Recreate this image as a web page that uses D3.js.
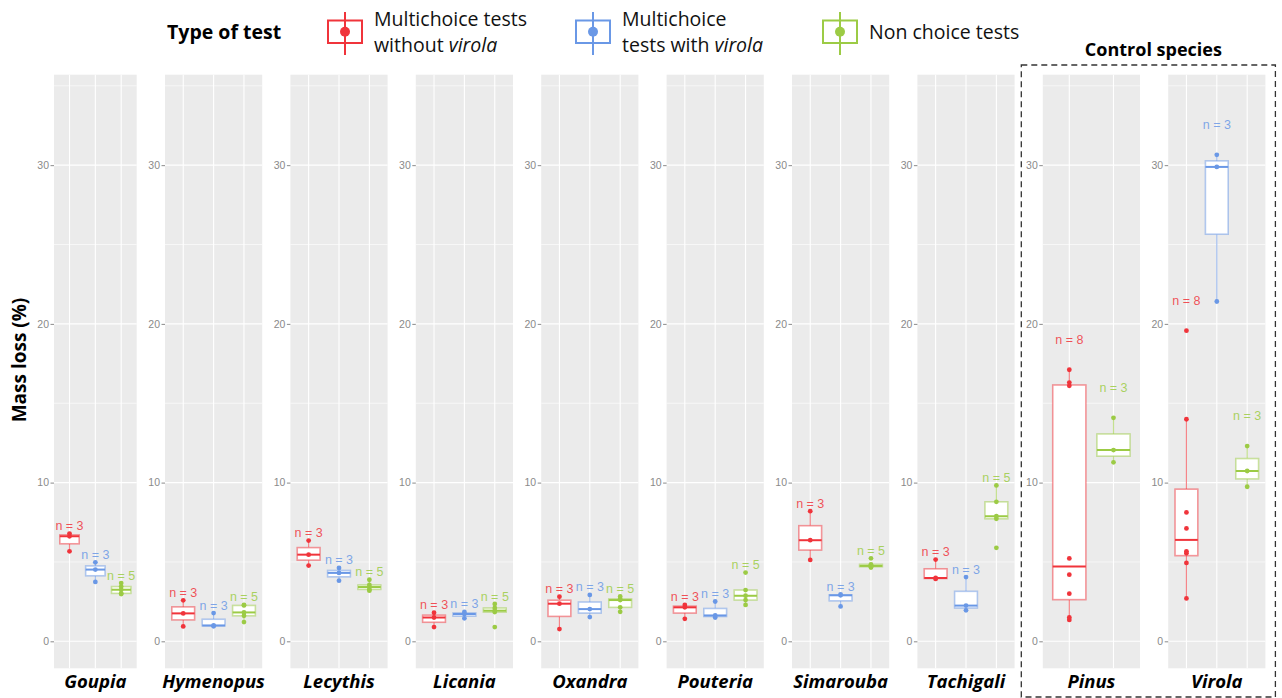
<!DOCTYPE html>
<html>
<head>
<meta charset="utf-8">
<script src="https://cdn.jsdelivr.net/npm/d3@7"></script>
<style>
  html, body { margin: 0; padding: 0; background: #fff; }
  svg { display: block; }
</style>
</head>
<body>
<svg id="chart" width="1282" height="698"></svg>
<script>
// ---------------- DATA ----------------
const genera = ["Goupia", "Hymenopus", "Lecythis", "Licania", "Oxandra", "Pouteria", "Simarouba", "Tachigali", "Pinus", "Virola"];
const controlGenera = ["Pinus", "Virola"];
const testTypes = ["Multichoice tests without virola", "Multichoice tests with virola", "Non choice tests"];
const testColors = ["#F0343B", "#6A98E6", "#9CCB45"];

// mass loss (%) per genus, one array per type of test (null = not tested)
const withoutVirola = [
  [5.67, 6.62, 6.79],
  [0.94, 1.76, 2.58],
  [4.77, 5.46, 6.35],
  [0.90, 1.50, 1.80],
  [0.77, 2.37, 2.81],
  [1.42, 2.14, 2.29],
  [5.13, 6.37, 8.20],
  [3.93, 3.99, 5.15],
  [1.35, 1.50, 3.00, 4.20, 5.22, 16.10, 16.30, 17.11],
  [2.70, 4.94, 5.55, 5.67, 7.11, 8.12, 13.99, 19.57]
];
const withVirola = [
  [3.74, 4.52, 4.98],
  [0.95, 1.00, 1.78],
  [3.82, 4.31, 4.62],
  [1.45, 1.72, 1.85],
  [1.53, 2.03, 2.92],
  [1.50, 1.63, 2.51],
  [2.20, 2.90, 2.95],
  [1.95, 2.25, 4.05],
  null,
  [21.41, 29.89, 30.65]
];
const nonChoice = [
  [2.98, 3.02, 3.25, 3.45, 3.67],
  [1.21, 1.61, 1.82, 2.26, 2.29],
  [3.19, 3.27, 3.42, 3.55, 3.88],
  [0.90, 1.84, 1.93, 2.10, 2.35],
  [1.86, 2.14, 2.60, 2.67, 2.83],
  [2.29, 2.60, 2.87, 3.23, 4.33],
  [4.65, 4.70, 4.75, 4.85, 5.23],
  [5.89, 7.72, 7.88, 8.79, 9.82],
  [11.28, 12.05, 14.08],
  [9.74, 10.73, 12.30]
];
const yTicks = [0, 10, 20, 30];
const yMinor = [5, 15, 25, 35];
const yLabel = "Mass loss (%)";
const legendTitle = "Type of test";
const controlTitle = "Control species";

// ---------------- LAYOUT ----------------
const svg = d3.select("#chart");
const panelTop = 74.7, panelBottom = 668.3;
const y = d3.scaleLinear().domain([-1.7, 35.7]).range([panelBottom, panelTop]);
const panelLeft = i => i === 0 ? 54 : 165 + (i - 1) * 125.4;
const panelRight = i => i === 0 ? 136.7 : panelLeft(i) + 97.2;
const plotFont = "'Liberation Sans', Arial, sans-serif";
const titleFont = "'Open Sans', 'Noto Sans', sans-serif";

const seriesByType = [withoutVirola, withVirola, nonChoice];

function stats(vals) {
  const s = vals.slice().sort(d3.ascending);
  const q1 = d3.quantile(s, 0.25), med = d3.quantile(s, 0.5), q3 = d3.quantile(s, 0.75);
  const iqr = q3 - q1;
  const lo = d3.min(s.filter(v => v >= q1 - 1.5 * iqr));
  const hi = d3.max(s.filter(v => v <= q3 + 1.5 * iqr));
  return {q1, med, q3, lo, hi, max: s[s.length - 1], n: s.length, vals: s};
}

genera.forEach((g, i) => {
  const x0 = panelLeft(i), x1 = panelRight(i);
  const isControl = controlGenera.includes(g);
  const groups = testTypes.map((t, k) => ({t, k, vals: seriesByType[k][i]})).filter(d => d.vals);
  const x = d3.scalePoint().domain(groups.map(d => d.t)).range([x0, x1]).padding(0.6);
  const bw = x.step() * 0.75;
  const p = svg.append("g");

  p.append("rect").attr("x", x0).attr("y", panelTop).attr("width", x1 - x0).attr("height", panelBottom - panelTop).attr("fill", "#EBEBEB");
  p.selectAll(".ymin").data(yMinor).join("line")
    .attr("x1", x0).attr("x2", x1).attr("y1", d => y(d)).attr("y2", d => y(d))
    .attr("stroke", "#fff").attr("stroke-width", 0.6);
  p.selectAll(".ymaj").data(yTicks).join("line")
    .attr("x1", x0).attr("x2", x1).attr("y1", d => y(d)).attr("y2", d => y(d))
    .attr("stroke", "#fff").attr("stroke-width", 1.1);
  p.selectAll(".xmaj").data(groups).join("line")
    .attr("x1", d => x(d.t)).attr("x2", d => x(d.t)).attr("y1", panelTop).attr("y2", panelBottom)
    .attr("stroke", "#fff").attr("stroke-width", 1.1);

  // y axis
  const ax = p.append("g").attr("transform", `translate(${x0},0)`)
    .call(d3.axisLeft(y).tickValues(yTicks).tickSize(3.5).tickPadding(1.5).tickFormat(d3.format("d")));
  ax.select(".domain").remove();
  ax.selectAll("line").attr("stroke", "#8a8a8a");
  ax.selectAll("text").attr("fill", "#8a8a8a").style("font-family", plotFont).style("font-size", "10.5px");

  groups.forEach(d => {
    const s = stats(d.vals);
    const c = testColors[d.k];
    const cx = x(d.t);
    p.append("line").attr("x1", cx).attr("x2", cx).attr("y1", y(s.hi)).attr("y2", y(s.q3))
      .attr("stroke", c).attr("stroke-opacity", 0.6).attr("stroke-width", 1.2);
    p.append("line").attr("x1", cx).attr("x2", cx).attr("y1", y(s.q1)).attr("y2", y(s.lo))
      .attr("stroke", c).attr("stroke-opacity", 0.6).attr("stroke-width", 1.2);
    p.append("rect").attr("x", cx - bw / 2).attr("y", y(s.q3)).attr("width", bw)
      .attr("height", Math.max(0.5, y(s.q1) - y(s.q3)))
      .attr("fill", "#fff").attr("stroke", c).attr("stroke-opacity", 0.5).attr("stroke-width", 1.6);
    p.append("line").attr("x1", cx - bw / 2).attr("x2", cx + bw / 2).attr("y1", y(s.med)).attr("y2", y(s.med))
      .attr("stroke", c).attr("stroke-width", 2);
    p.selectAll(null).data(s.vals).join("circle")
      .attr("cx", cx).attr("cy", v => y(v)).attr("r", 2.4).attr("fill", c);
    p.append("text").attr("x", cx).attr("y", y(s.max) - (isControl ? 30 : 7.5))
      .attr("text-anchor", "middle").attr("dominant-baseline", "central")
      .style("font-family", plotFont).style("font-size", "12.5px")
      .attr("fill", c).attr("fill-opacity", 0.85).text("n = " + s.n);
  });

  svg.append("text").attr("x", (x0 + x1) / 2).attr("y", 688)
    .attr("text-anchor", "middle")
    .style("font-family", titleFont).style("font-size", "18.5px").style("font-weight", "bold").style("font-style", "italic")
    .attr("fill", "#000").text(g);
});

// y label
svg.append("text").attr("transform", "translate(26,360) rotate(-90)")
  .attr("text-anchor", "middle")
  .style("font-family", titleFont).style("font-size", "19px").style("font-weight", "bold")
  .text(yLabel);

// control box
const ci = genera.indexOf(controlGenera[0]);
const cj = genera.indexOf(controlGenera[controlGenera.length - 1]);
svg.append("rect").attr("x", panelLeft(ci) - 21.5).attr("y", 65)
  .attr("width", panelRight(cj) + 10 - (panelLeft(ci) - 21.5)).attr("height", 632)
  .attr("fill", "none").attr("stroke", "#333").attr("stroke-width", 1.3).attr("stroke-dasharray", "6,4");
svg.append("text").attr("x", (panelLeft(ci) - 21.5 + panelRight(cj) + 10) / 2 + 5).attr("y", 56)
  .attr("text-anchor", "middle")
  .style("font-family", titleFont).style("font-size", "18px").style("font-weight", "bold")
  .text(controlTitle);

// legend
svg.append("text").attr("x", 167).attr("y", 39)
  .style("font-family", titleFont).style("font-size", "19.5px").style("font-weight", "bold")
  .text(legendTitle);
const legendX = [345, 593, 840];
const legendLines = [
  [["Multichoice tests"], ["without ", "virola"]],
  [["Multichoice"], ["tests with ", "virola"]],
  [["Non choice tests"]]
];
testTypes.forEach((t, k) => {
  const g = svg.append("g");
  const cx = legendX[k], c = testColors[k];
  g.append("line").attr("x1", cx).attr("x2", cx).attr("y1", 12).attr("y2", 55).attr("stroke", c).attr("stroke-width", 2);
  g.append("rect").attr("x", cx - 17).attr("y", 20.5).attr("width", 34).attr("height", 22.5)
    .attr("fill", "none").attr("stroke", c).attr("stroke-width", 2);
  g.append("circle").attr("cx", cx).attr("cy", 31.7).attr("r", 5).attr("fill", c);
  const lines = legendLines[k];
  const baseY = lines.length === 1 ? [39] : [26, 51.5];
  lines.forEach((ln, li) => {
    const tx = g.append("text").attr("x", cx + 29).attr("y", baseY[li])
      .style("font-family", titleFont).style("font-size", "19.5px").attr("fill", "#111");
    tx.append("tspan").text(ln[0]);
    if (ln[1]) tx.append("tspan").style("font-style", "italic").text(ln[1]);
  });
});
</script>
</body>
</html>
